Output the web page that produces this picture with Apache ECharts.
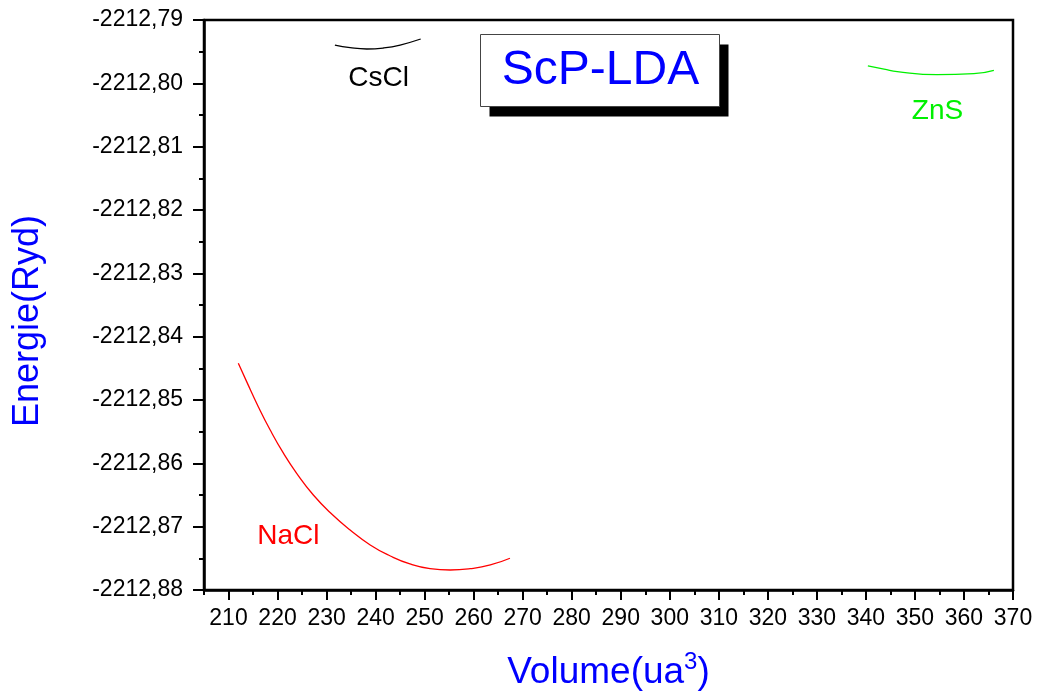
<!DOCTYPE html>
<html>
<head>
<meta charset="utf-8">
<script src="https://cdn.jsdelivr.net/npm/echarts@6/dist/echarts.min.js"></script>
<style>html,body{margin:0;padding:0;background:#fff}#c{width:1037px;height:694px}</style>
</head>
<body>
<div id="c"></div>
<script>
// ---- data ----
var naclX = [212.0, 213.7, 216.1, 218.5, 221.2, 223.9, 227.3, 231.1, 234.8, 238.9, 243.0, 247.0, 251.1, 255.2, 259.3, 263.4, 267.4];
var naclY = [-2212.84420, -2212.84710, -2212.85110, -2212.85474, -2212.85840, -2212.86157, -2212.86500, -2212.86805, -2212.87052, -2212.87289, -2212.87463, -2212.87589, -2212.87663, -2212.87684, -2212.87663, -2212.87605, -2212.87499];
var csclX = [231.7, 234.8, 238.2, 241.6, 245, 249.2];
var csclY = [-2212.79395, -2212.79437, -2212.79458, -2212.79442, -2212.79395, -2212.7930];
var znsX = [340.4, 343.7, 346.4, 354.5, 362.0, 366.1];
var znsY = [-2212.79726, -2212.79774, -2212.79816, -2212.79864, -2212.79848, -2212.79794];
var seriesNames = ['NaCl', 'CsCl', 'ZnS'];
var labelX = [222.2, 240.6, 354.6];
var labelY = [-2212.8715, -2212.7992, -2212.8044];
var xTicks = [210, 220, 230, 240, 250, 260, 270, 280, 290, 300, 310, 320, 330, 340, 350, 360, 370];
var xMinorTicks = [205, 215, 225, 235, 245, 255, 265, 275, 285, 295, 305, 315, 325, 335, 345, 355, 365];
var yMin = -2212.88, yMax = -2212.79, yStep = 0.01;
var xMin = 205, xMax = 370;
var titleText = 'ScP-LDA';

function zip(a, b) { return a.map(function (v, i) { return [v, b[i]]; }); }
var colors = ['#ff0000', '#000000', '#00f000'];

var chart = echarts.init(document.getElementById('c'));
var font = 'Liberation Sans, Arial, sans-serif';
var option = {
  animation: false,
  grid: { left: 204, right: 24, top: 20, bottom: 104, outerBoundsMode: 'none', containLabel: false,
    show: true, borderColor: '#000', borderWidth: 2.5, backgroundColor: 'transparent' },
  xAxis: [{
    type: 'value', min: xMin, max: xMax, position: 'bottom',
    name: '{b|Volume(ua}{sup|3}{b|)}', nameLocation: 'middle', nameGap: 60,
    nameTextStyle: { color: '#0000ff', fontFamily: font,
      rich: {
        b: { fontSize: 37, verticalAlign: 'bottom', color: '#0000ff', fontFamily: font },
        sup: { fontSize: 24, verticalAlign: 'bottom', padding: [0, 0, 17, 0], color: '#0000ff', fontFamily: font }
      } },
    axisLine: { show: true, onZero: false, lineStyle: { color: '#000', width: 2.5 } },
    axisTick: { show: true, inside: false, length: 10, customValues: xTicks, lineStyle: { color: '#000', width: 2 } },
    axisLabel: { customValues: xTicks, color: '#000', fontSize: 23, fontFamily: font, margin: 17 },
    splitLine: { show: false }
  }, {
    type: 'value', min: xMin, max: xMax, position: 'bottom', gridIndex: 0,
    axisLine: { show: false },
    axisTick: { show: true, inside: false, length: 5, customValues: xMinorTicks, lineStyle: { color: '#000', width: 2 } },
    axisLabel: { show: false },
    splitLine: { show: false }
  }],
  yAxis: [{
    type: 'value', min: yMin, max: yMax, interval: yStep, position: 'left',
    name: 'Energie(Ryd)', nameLocation: 'middle', nameGap: 158, nameRotate: 90,
    nameTextStyle: { color: '#0000ff', fontSize: 36, fontFamily: font, padding: [0, 32, 0, 0] },
    axisLine: { show: true, onZero: false, lineStyle: { color: '#000', width: 2.5 } },
    axisTick: { show: true, inside: false, length: 11, lineStyle: { color: '#000', width: 2 } },
    minorTick: { show: true, splitNumber: 2, length: 5, lineStyle: { color: '#000', width: 2 } },
    axisLabel: { color: '#000', fontSize: 23, fontFamily: font, margin: 21,
      formatter: function (v) { return v.toFixed(2).replace('.', ','); } },
    splitLine: { show: false }
  }],
  series: [
    { name: seriesNames[0], type: 'line', data: zip(naclX, naclY), smooth: true, showSymbol: false, lineStyle: { color: colors[0], width: 1.3 } },
    { name: seriesNames[1], type: 'line', data: zip(csclX, csclY), smooth: true, showSymbol: false, lineStyle: { color: colors[1], width: 1.3 } },
    { name: seriesNames[2], type: 'line', data: zip(znsX, znsY), smooth: true, showSymbol: false, lineStyle: { color: colors[2], width: 1.3 } },
    { type: 'scatter', symbolSize: 0, silent: true, itemStyle: { opacity: 1 },
      data: seriesNames.map(function (n, i) {
        return { value: [labelX[i], labelY[i]], name: n,
          label: { show: true, position: 'inside', formatter: n, color: colors[i], opacity: 1, textBorderWidth: 0, fontSize: 28, fontFamily: font } };
      }) }
  ],
  graphic: [{
    type: 'group', left: 480, top: 34,
    children: [
      { type: 'rect', shape: { x: 9, y: 10, width: 239, height: 72 }, style: { fill: '#000' } },
      { type: 'rect', shape: { x: 0, y: 0, width: 239, height: 72 }, style: { fill: '#fff', stroke: '#444', lineWidth: 1 } },
      { type: 'text', x: 120, y: 36, style: { text: titleText, fill: '#0000ff', font: '48px ' + font, align: 'center', verticalAlign: 'middle' } }
    ]
  }]
};
chart.setOption(option);
</script>
</body>
</html>
